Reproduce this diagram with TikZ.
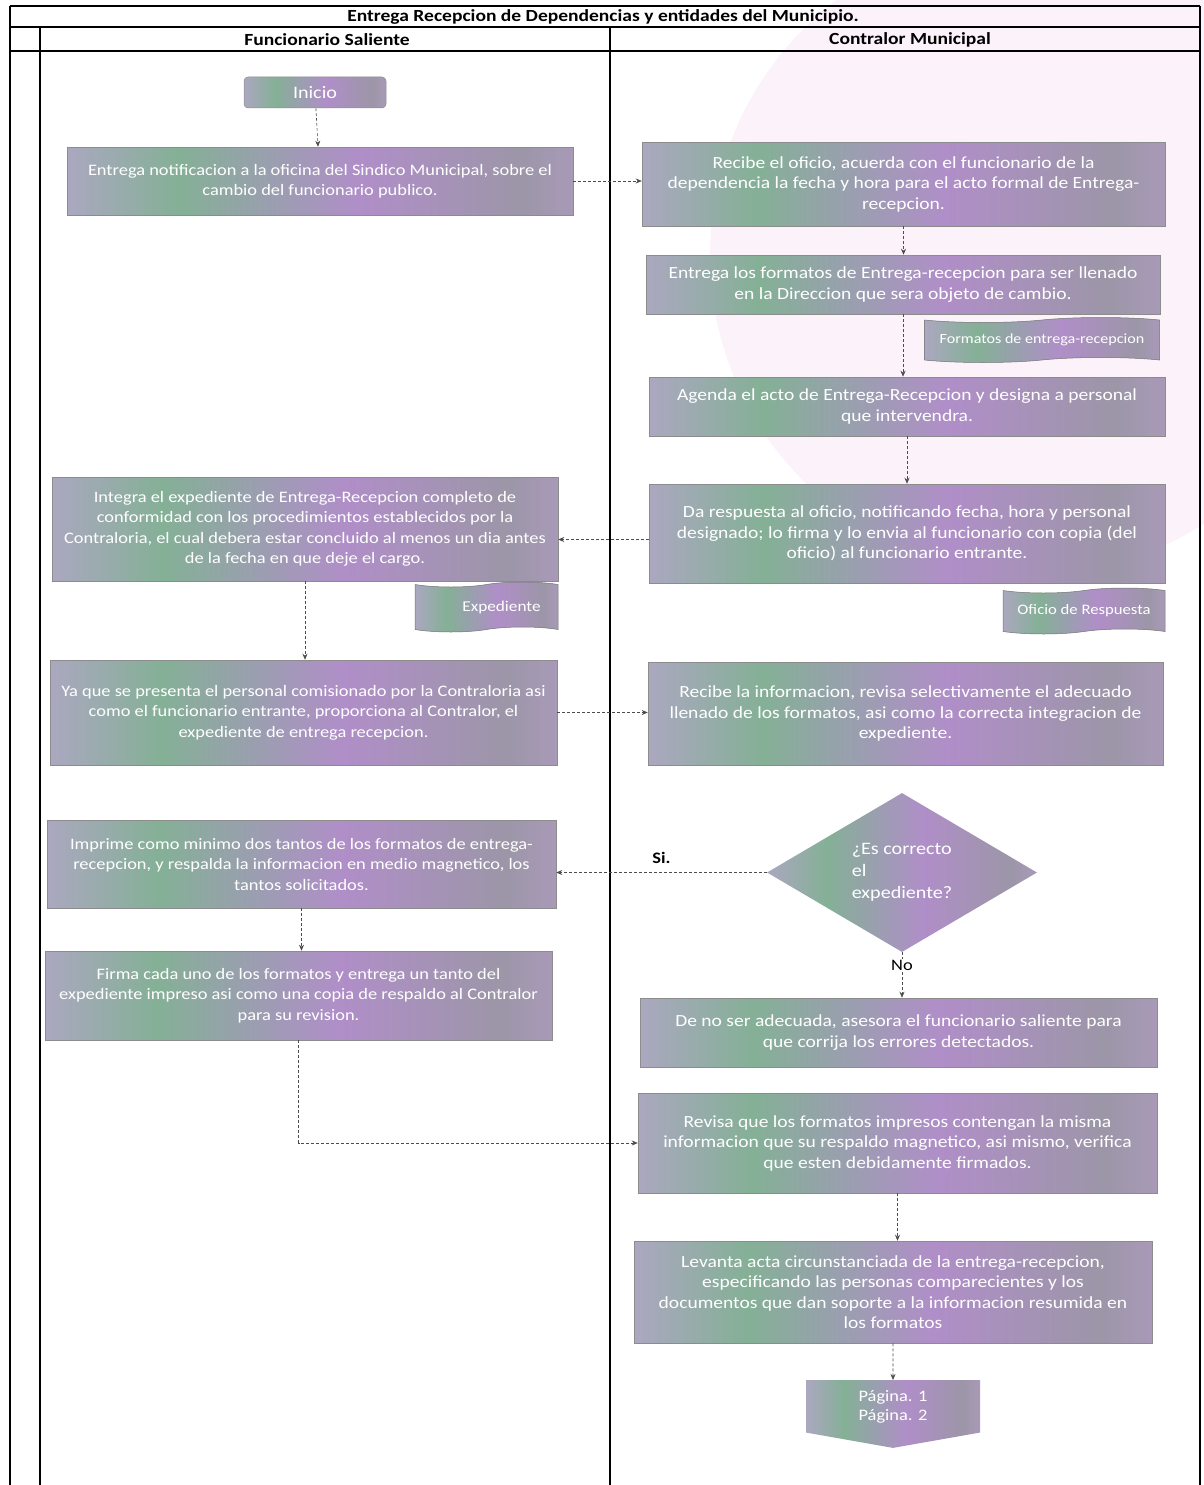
\documentclass[tikz,border=0pt]{standalone}
\usepackage{fontspec}
\setmainfont{Carlito}[FakeStretch=1.15]
\usepackage{tikz}
\usetikzlibrary{arrows.meta, positioning, shapes.geometric, shapes.symbols}
\definecolor{boxpurple}{RGB}{176,142,200}
\definecolor{boxlilac}{RGB}{196,162,218}
\definecolor{boxgreen}{RGB}{132,176,150}
\definecolor{boxgray}{RGB}{156,150,168}
\definecolor{washpink}{RGB}{252,242,250}
\pgfdeclarehorizontalshading{boxmottle}{100bp}{color(0bp)=(boxpurple); color(18bp)=(boxlilac); color(36bp)=(boxgreen); color(54bp)=(boxpurple); color(70bp)=(boxgray); color(86bp)=(boxlilac); color(100bp)=(boxpurple)}
\newcommand{\leftfont}{\fontsize{16}{20.5}\selectfont}
\newcommand{\rightfont}{\fontsize{17}{20.5}\selectfont}

\begin{document}
\begin{tikzpicture}[x=1pt, y=-1pt,
  proc/.style={rectangle, shading=boxmottle, draw=black!45, line width=0.5pt,
               text=white, align=center, font=\rightfont, inner sep=2pt},
  docbox/.style={tape, shading=boxmottle, draw=black!55, line width=0.5pt,
                 text=white, font=\fontsize{14}{16}\selectfont, inner sep=2pt},
  lane/.style={black, line width=1.4pt},
  head/.style={font=\fontsize{17}{19}\selectfont\bfseries},
  flow/.style={densely dashed, black!70, line width=0.6pt, -{Stealth[length=6pt, width=5pt]}}
]
\useasboundingbox (0,0) rectangle (1204,1485);
\begin{scope}
  \clip (0,0) rectangle (1204,1485);
  \fill[washpink] (1030,255) circle (320);
\end{scope}

% swimlanes
\draw[lane] (10,6) -- (1200,6);
\draw[lane] (10,27) -- (1200,27);
\draw[lane] (10,51) -- (1200,51);
\draw[lane] (10,6) -- (10,1485);
\draw[lane] (1200,6) -- (1200,1485);
\draw[lane] (40,27) -- (40,1485);
\draw[lane] (610,27) -- (610,1485);
\node[head] (title) at (603,17) {Entrega Recepcion de Dependencias y entidades del Municipio.};
\node[head] (saliente) at (327,40) {Funcionario Saliente};
\node[head] (contralor) at (910,40) {Contralor Municipal};

% Funcionario Saliente
\node[proc, rounded corners=4pt, minimum width=142, minimum height=31,
      font=\fontsize{17.5}{19}\selectfont] (inicio) at (315,92.5) {Inicio};
\node[proc, font=\leftfont, minimum width=506, minimum height=68] (notif) at (320,181)
  {Entrega notificacion a la oficina del Sindico Municipal, sobre el\\cambio del funcionario publico.};
\node[proc, font=\leftfont, minimum width=506, minimum height=104] (integra) at (305,529)
  {Integra el expediente de Entrega-Recepcion completo de\\conformidad con los procedimientos establecidos por la\\Contraloria, el cual debera estar concluido al menos un dia antes\\de la fecha en que deje el cargo.};
\node[docbox, minimum width=143, minimum height=50, font=\fontsize{15}{17}\selectfont]
  (expediente) at (486.5,607) {\hspace*{30pt}Expediente};
\node[proc, font=\leftfont, minimum width=507, minimum height=105] (presenta) at (303.5,712.5)
  {Ya que se presenta el personal comisionado por la Contraloria asi\\como el funcionario entrante, proporciona al Contralor, el\\expediente de entrega recepcion.};
\node[proc, font=\leftfont, minimum width=509, minimum height=88] (imprime) at (301.5,864)
  {Imprime como minimo dos tantos de los formatos de entrega-\\recepcion, y respalda la informacion en medio magnetico, los\\tantos solicitados.};
\node[proc, font=\leftfont, minimum width=507, minimum height=89] (firma) at (298.5,995.5)
  {Firma cada uno de los formatos y entrega un tanto del\\expediente impreso asi como una copia de respaldo al Contralor\\para su revision.};

% Contralor Municipal
\node[proc, minimum width=523, minimum height=84] (recibe) at (903.5,184)
  {Recibe el oficio, acuerda con el funcionario de la\\dependencia la fecha y hora para el acto formal de Entrega-\\recepcion.};
\node[proc, minimum width=514, minimum height=59] (formatos) at (903,284.5)
  {Entrega los formatos de Entrega-recepcion para ser llenado\\en la Direccion que sera objeto de cambio.};
\node[docbox, minimum width=235, minimum height=45] (docformatos) at (1042,340)
  {Formatos de entrega-recepcion};
\node[proc, minimum width=516, minimum height=59] (agenda) at (907,406.5)
  {Agenda el acto de Entrega-Recepcion y designa a personal\\que intervendra.};
\node[proc, minimum width=516, minimum height=99] (respuesta) at (907,533.5)
  {Da respuesta al oficio, notificando fecha, hora y personal\\designado; lo firma y lo envia al funcionario con copia (del\\oficio) al funcionario entrante.};
\node[docbox, minimum width=162, minimum height=46, font=\fontsize{14.5}{16}\selectfont]
  (docrespuesta) at (1084,611) {Oficio de Respuesta};
\node[proc, minimum width=515, minimum height=103] (revinfo) at (905.5,713.5)
  {Recibe la informacion, revisa selectivamente el adecuado\\llenado de los formatos, asi como la correcta integracion de\\expediente.};
\node[diamond, shading=boxmottle, text=white, align=left,
      font=\fontsize{17.5}{22}\selectfont,
      minimum width=270, minimum height=159, inner sep=0pt] (decide) at (902,872.5)
  {¿Es correcto\\el\\expediente?};
\node[proc, minimum width=517, minimum height=69] (asesora) at (898.5,1032.5)
  {De no ser adecuada, asesora el funcionario saliente para\\que corrija los errores detectados.};
\node[proc, minimum width=519, minimum height=100] (revisa) at (897.5,1143)
  {Revisa que los formatos impresos contengan la misma\\informacion que su respaldo magnetico, asi mismo, verifica\\que esten debidamente firmados.};
\node[proc, minimum width=518, minimum height=102] (levanta) at (893,1292)
  {Levanta acta circunstanciada de la entrega-recepcion,\\especificando las personas comparecientes y los\\documentos que dan soporte a la informacion resumida en\\los formatos};
\node[signal, signal to=south, signal pointer angle=160, shading=boxmottle,
      text=white, font=\fontsize{16}{19}\selectfont, align=center, anchor=north,
      minimum width=174, minimum height=59] (pagina) at (893,1380) {Página. 1\\Página. 2};

% connectors
\draw[flow] (inicio) -- (notif);
\draw[flow] (notif.east) -- (notif.east -| recibe.west);
\draw[flow] (recibe.south) -- (recibe.south |- formatos.north);
\draw[flow] (formatos.south) -- (formatos.south |- agenda.north);
\draw[flow] (agenda) -- (respuesta);
\draw[flow] ([yshift=-6pt]respuesta.west) -- ([yshift=-6pt]respuesta.west -| integra.east);
\draw[flow] (integra) -- (integra |- presenta.north);
\draw[flow] (presenta.east) -- (presenta.east -| revinfo.west);
\draw[flow] (decide.west) -- (decide.west -| imprime.east)
  node[midway, above=5pt, text=black, font=\fontsize{16}{18}\selectfont\bfseries] {Si.};
\draw[flow] (decide.south) -- (decide.south |- asesora.north)
  node[pos=0.28, fill=white, inner sep=1pt, text=black, font=\fontsize{16}{18}\selectfont] {No};
\draw[flow] (imprime.south) -- (imprime.south |- firma.north);
\draw[flow] (firma.south) |- (revisa.west);
\draw[flow] (revisa.south) -- (revisa.south |- levanta.north);
\draw[flow] (levanta) -- (pagina);
\end{tikzpicture}
\end{document}
